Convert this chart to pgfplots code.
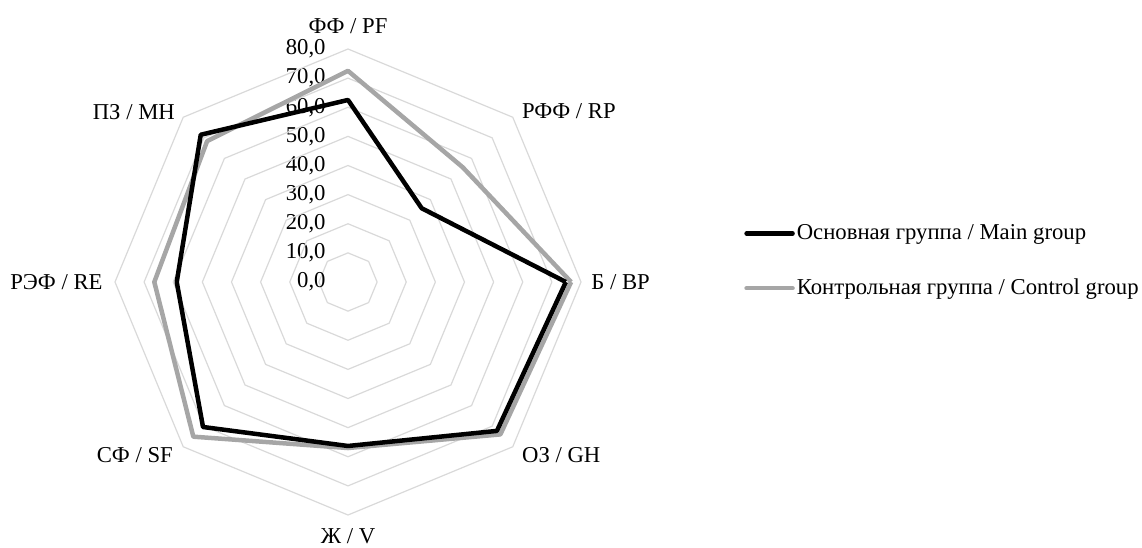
\documentclass[border=0pt]{standalone}
\usepackage{fontspec}
\setmainfont{Liberation Serif}
\usepackage{pgfplots}
\usepackage{pgfplotstable}
\pgfplotsset{compat=1.18}
\usepgfplotslibrary{polar}

\definecolor{ctrlgray}{HTML}{A6A6A6}
\definecolor{ringgray}{HTML}{D9D9D9}

% angle in degrees (BP at 0, going counterclockwise), then the two groups
\pgfplotstableread{
angle main control
0     74.8 76.6
45    35.8 55.7
90    62.5 72.5
135   71.5 68.4
180   58.8 66.5
225   70.4 75.1
270   56.3 57.0
315   72.3 74.0
360   74.8 76.6
}\scores

\begin{document}%
\fontsize{11.35}{13.6}\selectfont%
\begin{tikzpicture}
\useasboundingbox (0,0) rectangle (571pt,273.5pt);
\begin{polaraxis}[
	at={(174pt,132.5pt)}, anchor=center,
	scale only axis, width=233pt, height=233pt,
	xmin=0, xmax=360, ymin=0, ymax=80,
	hide axis, clip=false,
	reverse legend,
	legend cell align=left,
	legend style={draw=none, fill=none, inner sep=0pt,
		at={(1.3496,0.545)}, anchor=west, row sep=16pt,
		nodes={inner sep=1pt}},
	legend image code/.code={%
		\draw[#1, line cap=round] (0pt,0pt) -- (23pt,0pt);},
	]
	% octagonal rings
	\pgfplotsinvokeforeach{10,20,30,40,50,60,70,80}{
		\addplot[ringgray, line width=0.6pt, forget plot] coordinates
			{(0,#1) (45,#1) (90,#1) (135,#1) (180,#1) (225,#1) (270,#1) (315,#1) (360,#1)};
		\node[anchor=east, inner sep=0pt, xshift=-11pt] at (axis cs:90,#1) {#1,0};
	}
	\node[anchor=east, inner sep=0pt, xshift=-11pt] at (axis cs:90,0) {0,0};

	\addplot[ctrlgray, line width=2.25pt, line join=round]
		table[x=angle, y=control] {\scores};
	\addlegendentry{Контрольная группа / Control group}
	\addplot[black, line width=2.25pt, line join=round]
		table[x=angle, y=main] {\scores};
	\addlegendentry{Основная группа / Main group}

	% category names
	\node[inner sep=0pt, yshift=11.5pt] at (axis cs:90,80) {ФФ / PF};
	\node[anchor=west, inner sep=0pt, xshift=4.5pt, yshift=3pt] at (axis cs:45,80) {РФФ / RP};
	\node[anchor=west, inner sep=0pt, xshift=5pt] at (axis cs:0,80) {Б / BP};
	\node[anchor=west, inner sep=0pt, xshift=4.5pt, yshift=-4pt] at (axis cs:315,80) {ОЗ / GH};
	\node[inner sep=0pt, yshift=-10.8pt] at (axis cs:270,80) {Ж / V};
	\node[anchor=east, inner sep=0pt, xshift=-5pt, yshift=-4pt] at (axis cs:225,80) {СФ / SF};
	\node[anchor=east, inner sep=0pt, xshift=-6pt] at (axis cs:180,80) {РЭФ / RE};
	\node[anchor=east, inner sep=0pt, xshift=-4pt, yshift=2.5pt] at (axis cs:135,80) {ПЗ / МН};
\end{polaraxis}
\end{tikzpicture}%
\end{document}
